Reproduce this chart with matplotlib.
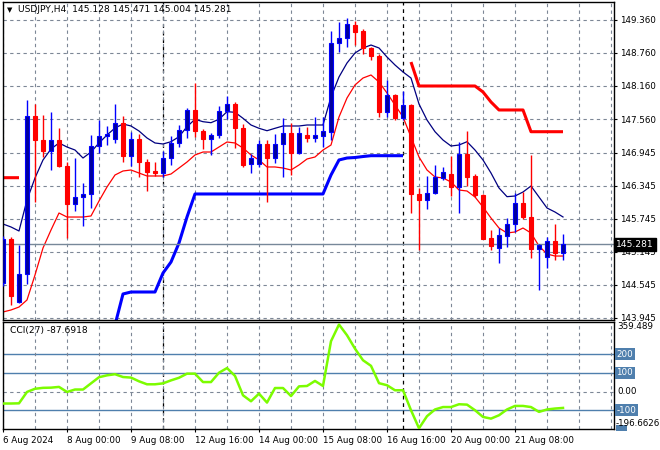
import numpy as np
import matplotlib
matplotlib.use('Agg')
import matplotlib.pyplot as plt
from matplotlib.patches import Rectangle
from matplotlib.transforms import blended_transform_factory

symbol = 'USDJPY,H4'

# H4 candles, 6 Aug 16:00 -> 21 Aug 2024
opens = [144.58, 145.37, 144.24, 144.74, 147.61, 147.18, 146.98, 147.18, 146.70, 146.01,
         146.15, 146.20, 147.07, 147.25, 147.20, 147.49, 146.88, 147.20, 146.78, 146.62,
         146.58, 146.86, 147.13, 147.36, 147.72, 147.35, 147.20, 147.27, 147.71, 147.84,
         147.39, 146.74, 146.74, 147.11, 146.86, 147.10, 147.30, 146.94, 147.27, 147.22,
         147.25, 147.33, 148.95, 149.03, 149.27, 149.16, 148.85, 148.71, 147.68, 148.00,
         147.57, 147.81, 146.19, 146.08, 146.21, 146.49, 146.56, 146.33, 146.92, 146.52,
         146.18, 145.39, 145.21, 145.44, 145.66, 146.03, 145.77, 145.19, 145.06, 145.34,
         145.128]
highs = [145.43, 145.41, 145.27, 147.91, 147.83, 147.64, 147.69, 147.39, 146.78, 146.86,
         146.39, 147.27, 147.54, 147.43, 147.83, 147.62, 147.32, 147.29, 146.83, 146.77,
         146.98, 147.25, 147.46, 147.76, 148.21, 147.37, 147.31, 147.80, 147.97, 147.86,
         147.47, 146.92, 147.17, 147.17, 147.29, 147.57, 147.48, 147.42, 147.42, 147.60,
         147.59, 149.16, 149.33, 149.40, 149.34, 149.20, 148.87, 148.74, 148.27, 148.01,
         148.06, 147.83, 146.30, 146.52, 146.72, 146.68, 146.88, 147.15, 147.34, 146.56,
         146.19, 145.54, 145.57, 145.76, 146.22, 146.24, 146.91, 145.28, 145.42, 145.65,
         145.471]
lows = [144.52, 144.18, 144.21, 144.56, 146.06, 146.87, 146.63, 146.68, 145.40, 145.89,
        145.62, 145.94, 146.95, 147.08, 147.12, 146.78, 146.71, 146.50, 146.26, 146.52,
        146.51, 146.72, 147.06, 147.21, 147.23, 147.02, 146.91, 147.22, 147.56, 147.04,
        146.68, 146.57, 146.68, 146.06, 146.76, 146.51, 146.54, 146.92, 147.15, 147.15,
        147.05, 147.18, 148.77, 148.87, 148.91, 148.74, 148.63, 147.59, 147.59, 147.54,
        147.54, 145.86, 145.18, 145.92, 146.20, 146.45, 146.16, 145.85, 146.34, 146.15,
        145.37, 145.18, 144.94, 145.24, 145.51, 145.75, 145.03, 144.45, 144.85, 145.00,
        145.004]
closes = [145.37, 144.34, 144.74, 147.61, 147.18, 146.98, 147.18, 146.71, 146.01, 146.15,
          146.20, 147.07, 147.25, 147.29, 147.49, 146.88, 147.20, 146.77, 146.60, 146.58,
          146.86, 147.13, 147.36, 147.72, 147.35, 147.20, 147.27, 147.71, 147.83, 147.39,
          146.72, 146.85, 147.11, 146.85, 147.11, 147.30, 146.94, 147.30, 147.22, 147.27,
          147.35, 148.95, 149.03, 149.29, 149.14, 148.85, 148.71, 147.68, 148.00, 147.57,
          147.82, 146.19, 146.08, 146.21, 146.50, 146.60, 146.33, 146.92, 146.51, 146.17,
          145.38, 145.26, 145.45, 145.66, 146.03, 145.77, 145.19, 145.27, 145.34, 145.13,
          145.281]

# thin envelope lines
upper_band = [145.651, 145.597, 145.524, 146.088, 146.488, 146.815, 147.015, 147.124, 147.051, 146.996,
              146.851, 146.960, 147.124, 147.269, 147.396, 147.469, 147.433, 147.342, 147.215, 147.124,
              147.106, 147.147, 147.238, 147.420, 147.555, 147.511, 147.493, 147.555, 147.693, 147.682,
              147.573, 147.451, 147.391, 147.347, 147.391, 147.433, 147.433, 147.433, 147.451, 147.451,
              147.451, 147.960, 148.324, 148.578, 148.760, 148.851, 148.905, 148.851, 148.687, 148.542,
              148.415, 148.305, 147.833, 147.542, 147.329, 147.178, 147.069, 147.087, 147.147, 146.996,
              146.815, 146.578, 146.306, 146.148, 146.160, 146.233, 146.342, 146.142, 145.942, 145.869,
              145.779]
lower_band = [144.052, 144.088, 144.142, 144.270, 144.724, 145.215, 145.542, 145.851, 145.778, 145.778,
              145.778, 145.797, 146.069, 146.324, 146.542, 146.615, 146.633, 146.578, 146.524, 146.524,
              146.524, 146.560, 146.669, 146.778, 146.906, 146.960, 146.960, 147.051, 147.142, 147.124,
              147.033, 146.906, 146.815, 146.688, 146.688, 146.669, 146.633, 146.724, 146.833, 146.869,
              146.996, 147.087, 147.597, 147.942, 148.178, 148.305, 148.360, 148.233, 148.033, 147.815,
              147.597, 147.233, 146.869, 146.633, 146.506, 146.488, 146.415, 146.269, 146.251, 146.142,
              145.960, 145.760, 145.578, 145.488, 145.506, 145.578, 145.488, 145.251, 145.106, 145.069,
              145.069]

nan = np.nan
# trailing stop (thick), split into long / short buffers
stop_long = [nan, nan, nan, nan, nan, nan, nan, nan, nan, nan,
             nan, nan, nan, nan, 143.815, 144.379, 144.415, 144.415, 144.415, 144.415,
             144.760, 144.960, 145.306, 145.779, 146.197, 146.197, 146.197, 146.197, 146.197, 146.197,
             146.197, 146.197, 146.197, 146.197, 146.197, 146.197, 146.197, 146.197, 146.197, 146.197,
             146.197, 146.542, 146.815, 146.851, 146.860, 146.878, 146.893, 146.893, 146.893, 146.893,
             146.893, nan, nan, nan, nan, nan, nan, nan, nan, nan,
             nan, nan, nan, nan, nan, nan, nan, nan, nan, nan, nan]
stop_short = [146.493, 146.493, 146.493, nan, nan, nan, nan, nan, nan, nan,
              nan, nan, nan, nan, nan, nan, nan, nan, nan, nan,
              nan, nan, nan, nan, nan, nan, nan, nan, nan, nan,
              nan, nan, nan, nan, nan, nan, nan, nan, nan, nan,
              nan, nan, nan, nan, nan, nan, nan, nan, nan, nan,
              nan, 148.596, 148.160, 148.160, 148.160, 148.160, 148.160, 148.160, 148.160, 148.160,
              148.051, 147.869, 147.724, 147.724, 147.724, 147.724, 147.329, 147.329, 147.329, 147.329,
              147.329]

cci = [-64, -64, -63, -2, 15, 20, 21, 25, -2, 11,
       11, 44, 77, 87, 93, 78, 75, 55, 39, 39,
       44, 60, 74, 96, 96, 51, 51, 101, 126, 84,
       -20, -52, -11, -59, 19, 19, -24, 28, 30, 57,
       30, 270, 359.489, 302, 230, 168, 138, 45, 34, 7,
       7, -100, -196.6626, -132, -96, -83, -83, -68, -70, -100,
       -136, -145, -127, -96, -77, -77, -83, -109, -96, -91,
       -87.6918]

price_ticks = [149.360, 148.760, 148.160, 147.560, 146.945, 146.345, 145.745, 145.145, 144.545, 143.945]
date_labels = ['6 Aug 2024', '8 Aug 00:00', '9 Aug 08:00', '12 Aug 16:00', '14 Aug 00:00',
               '15 Aug 08:00', '16 Aug 16:00', '20 Aug 00:00', '21 Aug 08:00']
week_breaks = [20, 50]
cci_levels = [200, 100, -100]

plt.rcParams['font.family'] = ['DejaVu Sans']
fs = 6.3
grid_col = '#7d8796'
level_col = '#4f7fad'
dash = (0, (3, 3))

n = len(opens)
x = np.arange(n)
o = np.array(opens); c = np.array(closes)
h = np.array(highs); l = np.array(lows)
up = c >= o

fig = plt.figure(figsize=(6.6, 4.5), dpi=100)
ax = fig.add_axes([3/660, 130/450, 611/660, 318/450])
ax2 = fig.add_axes([3/660, 21.5/450, 611/660, 106.5/450])

# --- price panel ---
ax.set_xlim(0, 76.375)
ax.set_ylim(143.906, 149.687)
ax.set_xticks(np.arange(0, 77, 4))
ax.set_xticklabels([])
ax.yaxis.tick_right()
ax.set_yticks(price_ticks)
ax.set_yticklabels(['%.3f' % p for p in price_ticks])
ax.tick_params(axis='x', length=0)
ax.tick_params(axis='y', length=2.5, width=0.8, labelsize=fs, pad=2)
ax.grid(True, color=grid_col, linestyle=dash, linewidth=0.8, zorder=0)
for b in week_breaks:
    ax.axvline(b, color='black', linestyle=dash, linewidth=0.9, zorder=1)

ax.plot(x, stop_long, color='#0000ff', lw=2.2, zorder=2, solid_capstyle='butt')
ax.plot(x, stop_short, color='#ff0000', lw=2.2, zorder=2, solid_capstyle='butt')
ax.plot(x, upper_band, color='#000080', lw=0.9, zorder=2)
ax.plot(x, lower_band, color='#ff0000', lw=0.9, zorder=2)

ax.vlines(x[up], l[up], h[up], color='#0000ff', lw=1, zorder=3)
ax.vlines(x[~up], l[~up], h[~up], color='#ff0000', lw=1, zorder=3)
ax.bar(x[up], c[up] - o[up], bottom=o[up], width=0.6, color='#00009c',
       edgecolor='#0000ff', linewidth=0.8, zorder=4)
ax.bar(x[~up], c[~up] - o[~up], bottom=o[~up], width=0.6, color='#ff0000',
       edgecolor='#ff0000', linewidth=0.8, zorder=4)

ax.axhline(closes[-1], color='#778899', lw=1, zorder=2.5)
ax.text(1.004, closes[-1], '%.3f' % closes[-1], transform=blended_transform_factory(ax.transAxes, ax.transData),
        ha='left', va='center', color='white', fontsize=fs + 0.3, clip_on=False, zorder=10,
        bbox=dict(boxstyle='square,pad=0.25', fc='black', ec='black'))

for s in ax.spines.values():
    s.set_linewidth(1)

fig.text(7/660, 1 - 10/450, '▼', fontsize=5, va='center', ha='left')
fig.text(18/660, 1 - 10/450, '%s  %.3f %.3f %.3f %.3f' % (symbol, opens[-1], highs[-1], lows[-1], closes[-1]),
         fontsize=fs + 0.3, va='center', ha='left')

# --- CCI panel ---
ax2.set_xlim(0, 76.375)
ax2.set_ylim(-198, 373)
ax2.set_xticks(np.arange(0, n, 8)[:len(date_labels)])
ax2.set_xticklabels(date_labels)
ax2.set_xticks(np.arange(0, 77, 4), minor=True)
ax2.tick_params(axis='x', which='major', length=2.5, labelsize=fs, pad=3)
ax2.tick_params(axis='x', which='minor', length=0)
for lbl in ax2.get_xticklabels():
    lbl.set_ha('left')
ax2.set_yticks([])
ax2.grid(True, axis='x', which='both', color=grid_col, linestyle=dash, linewidth=0.8, zorder=0)
ax2.axhline(0, color=grid_col, linestyle=dash, linewidth=0.8, zorder=0)
for lv in cci_levels:
    ax2.axhline(lv, color=level_col, lw=1, zorder=1)
for b in week_breaks:
    ax2.axvline(b, color='black', linestyle=dash, linewidth=0.9, zorder=1)
ax2.plot(x, cci, color='#7cfc00', lw=1.8, zorder=3)

tr = blended_transform_factory(ax2.transAxes, ax2.transData)
for lv in cci_levels:
    ax2.text(1.004, lv, '%d' % lv, transform=tr, ha='left', va='center', color='white',
             fontsize=fs, clip_on=False, zorder=5,
             bbox=dict(boxstyle='square,pad=0.15', fc=level_col, ec='none'))
# the -200 level tag peeking out under the minimum label
ax2.add_patch(Rectangle((616/660, 19/450), 11/660, 6/450, transform=fig.transFigure,
                        fc=level_col, ec='none', clip_on=False, zorder=4))
ax2.text(1.005, 0, '0.00', transform=tr, ha='left', va='center', fontsize=fs, clip_on=False)
ax2.text(1.005, 373, '%.3f' % max(cci), transform=tr, ha='left', va='top', fontsize=fs, clip_on=False)
ax2.text(1.003, -198, '%.4f' % min(cci), transform=tr, ha='left', va='bottom', fontsize=fs,
         clip_on=False, zorder=6)
ax2.text(7/611, 0.92, 'CCI(27) %.4f' % cci[-1], transform=ax2.transAxes, fontsize=fs + 0.3,
         ha='left', va='center')
for s in ax2.spines.values():
    s.set_linewidth(1)

fig.savefig('out.png', dpi=100)
